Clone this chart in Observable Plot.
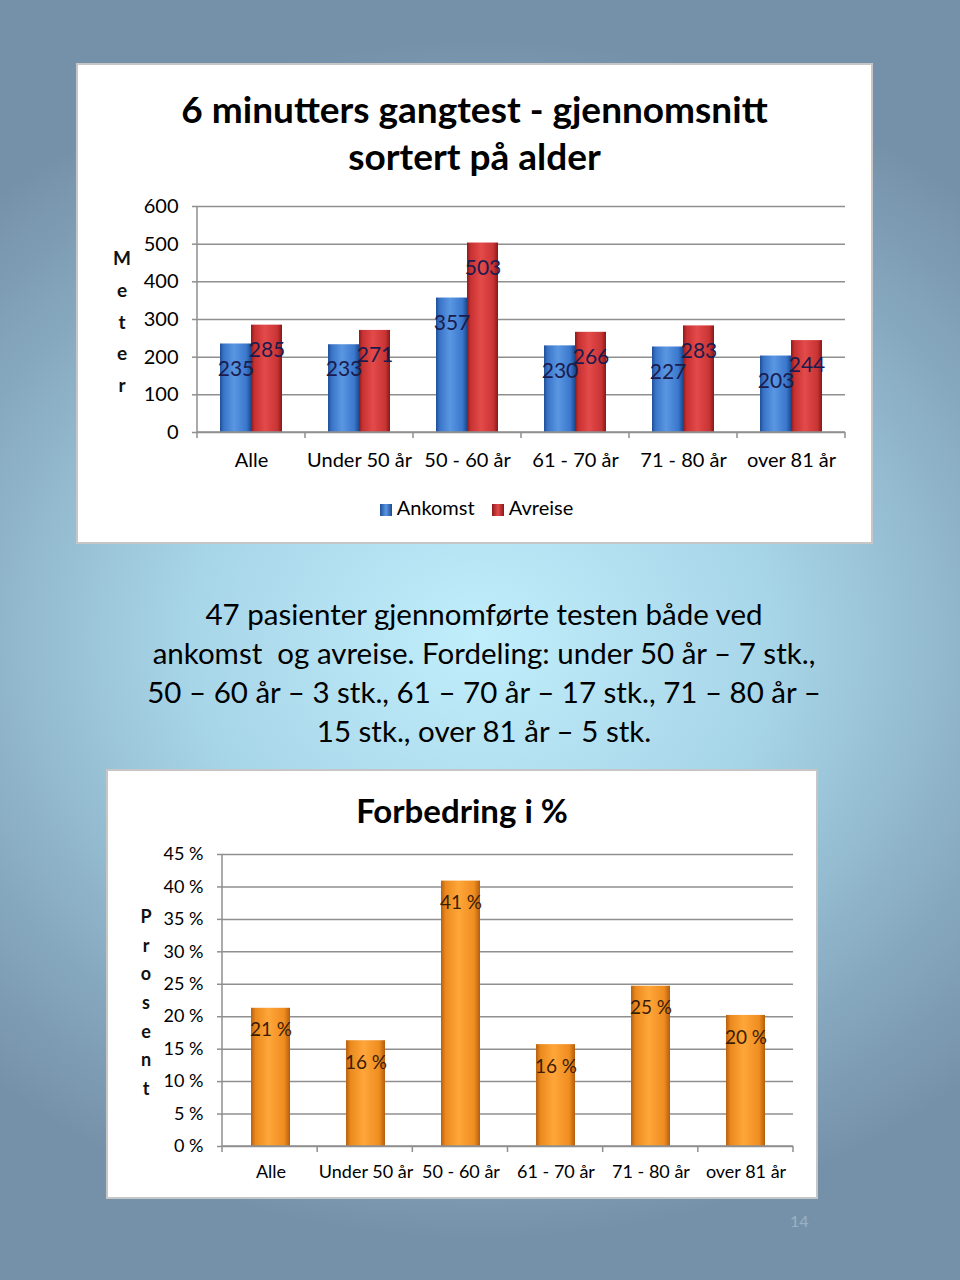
<!DOCTYPE html>
<html>
<head>
<meta charset="utf-8">
<script src="https://cdn.jsdelivr.net/npm/d3@7"></script>
<script src="https://cdn.jsdelivr.net/npm/@observablehq/plot@0.6"></script>
<style>
  html, body { margin: 0; padding: 0; }
  body {
    width: 960px; height: 1280px; position: relative; overflow: hidden;
    font-family: Lato, "Open Sans", sans-serif;
    background: radial-gradient(ellipse 720px 600px at 480px 640px, #c0eefb 0%, #a8d6e9 40%, #86a8bf 78%, #7591a9 100%);
  }
  .panel { position: absolute; background: #fff; box-shadow: 0 0 0 2px #c6c6c6; }
  .ptitle { position: absolute; left: 0; width: 100%; text-align: center; font-weight: 700; color: #000; }
  .vlabel { position: absolute; text-align: center; font-weight: 700; color: #111; }
  .legend { position: absolute; left: 0; width: 100%; text-align: center; font-size: 20px; color: #000; }
  .legend span.sw { display: inline-block; width: 12px; height: 12px; margin: 0 5px 0 0; vertical-align: -1px; }
  .legend span.item { margin: 0 6px; }
  #mid { position: absolute; left: 0; width: 968px; top: 594px; text-align: center; font-size: 29.5px; line-height: 39px; color: #000; }
  #pnum { position: absolute; left: 790px; top: 1211px; font-size: 16px; color: #9bb1c3; }
  .plotwrap { position: absolute; left: 0; }
</style>
</head>
<body>
<svg width="0" height="0" style="position:absolute">
  <defs>
    <linearGradient id="gBlue" x1="0" x2="1" y1="0" y2="0">
      <stop offset="0" stop-color="#1f4f98"/>
      <stop offset="0.12" stop-color="#3a74c8"/>
      <stop offset="0.45" stop-color="#5a97e2"/>
      <stop offset="0.85" stop-color="#3b77cc"/>
      <stop offset="1" stop-color="#1d4a90"/>
    </linearGradient>
    <linearGradient id="gRed" x1="0" x2="1" y1="0" y2="0">
      <stop offset="0" stop-color="#8f1a1a"/>
      <stop offset="0.12" stop-color="#c83232"/>
      <stop offset="0.45" stop-color="#e44a4a"/>
      <stop offset="0.85" stop-color="#c93434"/>
      <stop offset="1" stop-color="#8a1818"/>
    </linearGradient>
    <linearGradient id="gOrange" x1="0" x2="1" y1="0" y2="0">
      <stop offset="0" stop-color="#b8600f"/>
      <stop offset="0.12" stop-color="#eb8a1e"/>
      <stop offset="0.45" stop-color="#ffa63a"/>
      <stop offset="0.85" stop-color="#ef8d20"/>
      <stop offset="1" stop-color="#b55d0e"/>
    </linearGradient>
  </defs>
</svg>

<div class="panel" id="p1" style="left:78px; top:65px; width:793px; height:477px;">
  <div class="ptitle" style="top:20px; font-size:37px; line-height:47px;">6 minutters gangtest - gjennomsnitt<br>sortert på alder</div>
  <div class="vlabel" style="left:32px; width:24px; top:177px; font-size:19px; line-height:31.75px;">M<br>e<br>t<br>e<br>r</div>
  <div class="plotwrap" id="c1" style="top:120px;"></div>
  <div class="legend" style="top:429px; line-height:26px; padding-left:2px;">
    <span class="item"><span class="sw" style="background:linear-gradient(90deg,#1f4f98,#5a97e2,#1d4a90)"></span>Ankomst</span>
    <span class="item"><span class="sw" style="background:linear-gradient(90deg,#8f1a1a,#e44a4a,#8a1818)"></span>Avreise</span>
  </div>
</div>

<div id="mid">47 pasienter gjennomførte testen både ved<br>ankomst&nbsp; og avreise. Fordeling: under 50 år – 7 stk.,<br>50 – 60 år – 3 stk., 61 – 70 år – 17 stk., 71 – 80 år –<br>15 stk., over 81 år – 5 stk.</div>

<div class="panel" id="p2" style="left:108px; top:771px; width:708px; height:426px;">
  <div class="ptitle" style="top:18px; font-size:33px; line-height:42px;">Forbedring i %</div>
  <div class="vlabel" style="left:26px; width:24px; top:131px; font-size:18px; line-height:28.67px;">P<br>r<br>o<br>s<br>e<br>n<br>t</div>
  <div class="plotwrap" id="c2" style="top:70px;"></div>
</div>

<div id="pnum">14</div>

<script>
// ---- data ----
const categories = ["Alle", "Under 50 år", "50 - 60 år", "61 - 70 år", "71 - 80 år", "over 81 år"];
const seriesNames = ["Ankomst", "Avreise"];
const ankomst = [235, 233, 357, 230, 227, 203];
const avreise = [285, 271, 503, 266, 283, 244];
const meterTicks = [0, 100, 200, 300, 400, 500, 600];

const forbedring = [21.3, 16.3, 40.9, 15.7, 24.7, 20.2];
const forbedringLabels = ["21 %", "16 %", "41 %", "16 %", "25 %", "20 %"];
const prosentTicks = [0, 5, 10, 15, 20, 25, 30, 35, 40, 45];

const gridColor = "#8f8f8f";

// table for grouped bars
const table1 = [];
categories.forEach((c, i) => {
  table1.push({cat: c, series: seriesNames[0], value: ankomst[i]});
  table1.push({cat: c, series: seriesNames[1], value: avreise[i]});
});
const table2 = categories.map((c, i) => ({cat: c, value: forbedring[i], label: forbedringLabels[i]}));

function decorate(plot, scaleName, dims) {
  const svg = d3.select(plot);
  let r0 = dims.ml, r1 = dims.width - dims.mr, n = categories.length;
  try {
    const sc = plot.scale(scaleName);
    if (sc && sc.range) { r0 = Math.min(...sc.range); r1 = Math.max(...sc.range); n = sc.domain.length; }
  } catch (e) {}
  const base = dims.height - dims.mb;
  const g = svg.append("g").attr("stroke", gridColor).attr("stroke-width", 1.5);
  g.append("line").attr("x1", r0).attr("x2", r0).attr("y1", dims.mt).attr("y2", base + 6);
  g.append("line").attr("x1", r0).attr("x2", r1).attr("y1", base).attr("y2", base);
  for (let i = 1; i <= n; i++) {
    const x = r0 + i * (r1 - r0) / n;
    g.append("line").attr("x1", x).attr("x2", x).attr("y1", base).attr("y2", base + 6);
  }
}

// ---- chart 1 ----
const d1 = {width: 793, height: 300, mt: 21, mb: 53, ml: 119, mr: 26};
const chart1 = Plot.plot({
  width: d1.width, height: d1.height,
  marginTop: d1.mt, marginBottom: d1.mb, marginLeft: d1.ml, marginRight: d1.mr,
  style: {fontFamily: "Lato, sans-serif", fontSize: "20px", background: "transparent", color: "#000"},
  fx: {domain: categories, padding: 0, label: null},
  x: {domain: seriesNames, paddingInner: 0, paddingOuter: 0.714, axis: null},
  y: {domain: [0, 600], label: null},
  color: {domain: seriesNames, range: ["url(#gBlue)", "url(#gRed)"]},
  marks: [
    Plot.gridY(meterTicks, {stroke: gridColor, strokeOpacity: 1, strokeWidth: 1.5}),
    Plot.axisY(meterTicks, {tickSize: 5, tickPadding: 14, stroke: gridColor, strokeWidth: 1.5, fill: "#000", fontSize: 20, label: null}),
    Plot.axisFx({anchor: "bottom", tickSize: 0, tickPadding: 20, fontSize: 20, fill: "#000", label: null}),
    Plot.barY(table1, {fx: "cat", x: "series", y: "value", fill: "series"}),
    Plot.text(table1, {fx: "cat", x: "series", y: "value", text: d => String(d.value), dy: 25, fill: "#1b1b4e", fontSize: 21})
  ]
});
document.getElementById("c1").appendChild(chart1);
decorate(chart1, "fx", d1);

// ---- chart 2 ----
const d2 = {width: 708, height: 350, mt: 13, mb: 45, ml: 114, mr: 23};
const chart2 = Plot.plot({
  width: d2.width, height: d2.height,
  marginTop: d2.mt, marginBottom: d2.mb, marginLeft: d2.ml, marginRight: d2.mr,
  style: {fontFamily: "Lato, sans-serif", fontSize: "18px", background: "transparent", color: "#000"},
  x: {domain: categories, paddingInner: 0.59, paddingOuter: 0.295, label: null},
  y: {domain: [0, 45], label: null},
  marks: [
    Plot.gridY(prosentTicks, {stroke: gridColor, strokeOpacity: 1, strokeWidth: 1.5}),
    Plot.axisY(prosentTicks, {tickSize: 5, tickPadding: 14, stroke: gridColor, strokeWidth: 1.5, fill: "#000", fontSize: 18, tickFormat: d => d + " %", label: null}),
    Plot.axisX({anchor: "bottom", tickSize: 0, tickPadding: 19, fontSize: 18, fill: "#000", label: null}),
    Plot.barY(table2, {x: "cat", y: "value", fill: "url(#gOrange)"}),
    Plot.text(table2, {x: "cat", y: "value", text: "label", dy: 22, fill: "#3b1c05", fontSize: 19})
  ]
});
document.getElementById("c2").appendChild(chart2);
decorate(chart2, "x", d2);
</script>
</body>
</html>
